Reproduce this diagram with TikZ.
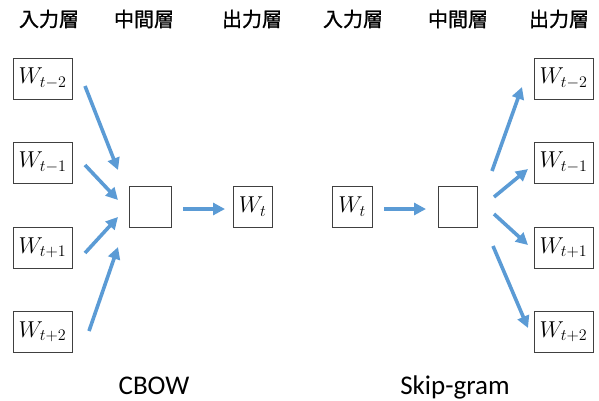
\RequirePackage{fix-cm}
\documentclass[tikz,border=0pt]{standalone}
\usepackage{fontspec}
\setmainfont{Carlito}
\newfontfamily\cjk{Noto Sans CJK JP}[FakeBold=1.2]
\usetikzlibrary{arrows.meta}
\definecolor{arrowblue}{RGB}{91,155,213}
\definecolor{boxline}{RGB}{64,64,64}
\begin{document}
\begin{tikzpicture}[x=1pt,y=-1pt,
  wordbox/.style={draw=boxline, line width=0.8pt, minimum height=41pt,
    inner sep=0pt, font=\fontsize{23}{24}\selectfont},
  layerhead/.style={font=\cjk\fontsize{20}{22}\selectfont},
  modelname/.style={anchor=base, font=\fontsize{27}{30}\selectfont},
  flow/.style={draw=arrowblue, line width=3.6pt,
    -{Triangle[length=12pt,width=12pt]}}]
\useasboundingbox (0,0) rectangle (599,400);

% layer headings
\node[layerhead] (h1) at (49,19) {入力層};
\node[layerhead] (h2) at (144,19) {中間層};
\node[layerhead] (h3) at (252,19) {出力層};
\node[layerhead] (h4) at (353,19) {入力層};
\node[layerhead] (h5) at (458,19) {中間層};
\node[layerhead] (h6) at (559,19) {出力層};

% CBOW
\node[wordbox, minimum width=59pt] (cm2) at (42.5,78.5) {$W_{t-2}$};
\node[wordbox, minimum width=59pt] (cm1) at (42.5,162.5) {$W_{t-1}$};
\node[wordbox, minimum width=59pt] (cp1) at (42.5,247.5) {$W_{t+1}$};
\node[wordbox, minimum width=59pt] (cp2) at (42.5,331.5) {$W_{t+2}$};
\node[wordbox, minimum width=42pt] (chid) at (150,206.5) {};
\node[wordbox, minimum width=39pt] (cout) at (252.5,206.5) {$W_t$};

\coordinate (ca1s) at (85,86);   \coordinate (ca1e) at (118,170);
\coordinate (ca2s) at (85,165);  \coordinate (ca2e) at (118,200);
\coordinate (ca3s) at (85,253);  \coordinate (ca3e) at (118,217);
\coordinate (ca4s) at (89,331);  \coordinate (ca4e) at (118,247);
\coordinate (ca5s) at (183,209); \coordinate (ca5e) at (225,209);
\draw[flow] (ca1s) -- (ca1e);
\draw[flow] (ca2s) -- (ca2e);
\draw[flow] (ca3s) -- (ca3e);
\draw[flow] (ca4s) -- (ca4e);
\draw[flow] (ca5s) -- (ca5e);

\node[modelname] (cbow) at (154,394) {CBOW};

% Skip-gram
\node[wordbox, minimum width=40pt] (sin) at (352,206.5) {$W_t$};
\node[wordbox, minimum width=39pt] (shid) at (457.5,206.5) {};
\node[wordbox, minimum width=59pt] (sm2) at (563.5,78.5) {$W_{t-2}$};
\node[wordbox, minimum width=59pt] (sm1) at (563.5,162.5) {$W_{t-1}$};
\node[wordbox, minimum width=59pt] (sp1) at (563.5,247.5) {$W_{t+1}$};
\node[wordbox, minimum width=59pt] (sp2) at (563.5,331.5) {$W_{t+2}$};

\coordinate (sa0s) at (384,209); \coordinate (sa0e) at (426,209);
\coordinate (sa1s) at (492,171); \coordinate (sa1e) at (522,87);
\coordinate (sa2s) at (494,197); \coordinate (sa2e) at (528,169);
\coordinate (sa3s) at (494,214); \coordinate (sa3e) at (528,245);
\coordinate (sa4s) at (493,246); \coordinate (sa4e) at (528,328);
\draw[flow] (sa0s) -- (sa0e);
\draw[flow] (sa1s) -- (sa1e);
\draw[flow] (sa2s) -- (sa2e);
\draw[flow] (sa3s) -- (sa3e);
\draw[flow] (sa4s) -- (sa4e);

\node[modelname] (skip) at (455,394) {Skip-gram};
\end{tikzpicture}
\end{document}
